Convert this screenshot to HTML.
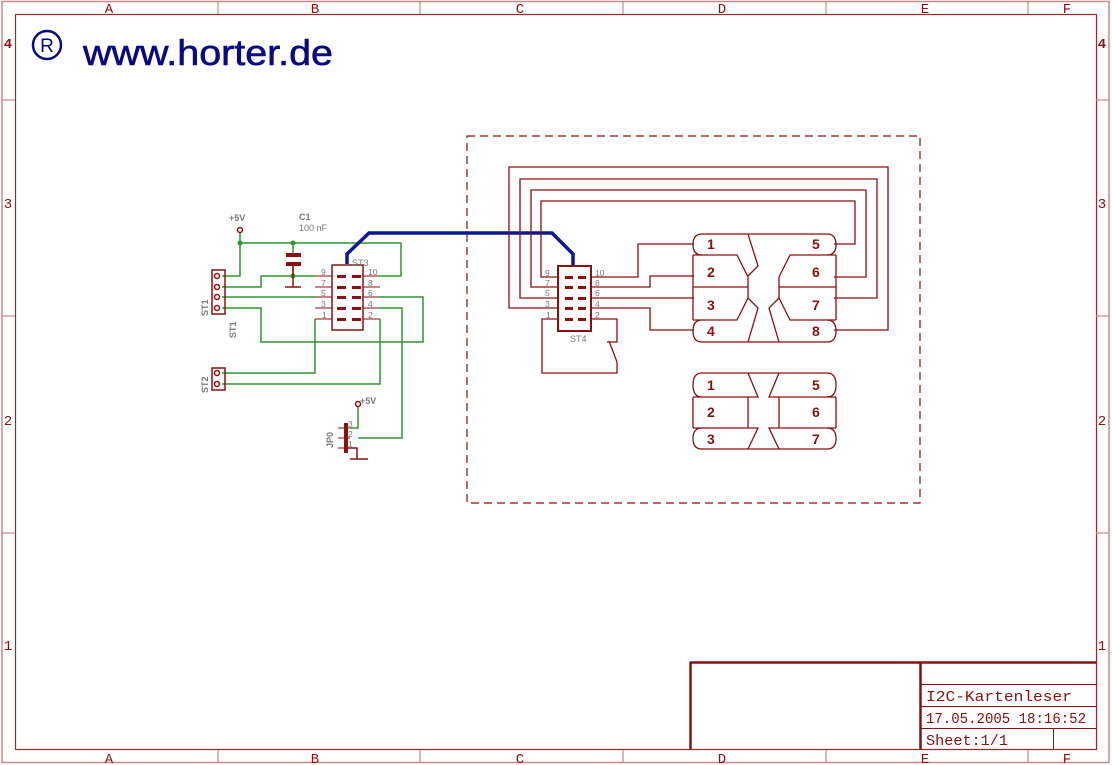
<!DOCTYPE html>
<html><head><meta charset="utf-8"><style>
html,body{margin:0;padding:0;background:#fdfefd;}
svg{display:block;}
text{font-family:"Liberation Sans",sans-serif;}
text.m{font-family:"Liberation Mono",monospace;}
</style></head><body>
<svg width="1112" height="765" viewBox="0 0 1112 765" xmlns="http://www.w3.org/2000/svg">
<rect x="0" y="0" width="1112" height="765" fill="#fdfefd"/>
<!-- frame -->
<rect x="2" y="1.5" width="1107" height="761" fill="none" stroke="#c98a8a" stroke-width="1.5"/>
<rect x="15.5" y="14.5" width="1081" height="735" fill="none" stroke="#9a2a2a" stroke-width="1.2"/>
<g stroke="#c98a8a" stroke-width="1.2">
<line x1="218" y1="2" x2="218" y2="14"/><line x1="420" y1="2" x2="420" y2="14"/><line x1="623" y1="2" x2="623" y2="14"/><line x1="826" y1="2" x2="826" y2="14"/><line x1="1028" y1="2" x2="1028" y2="14"/>
<line x1="218" y1="750" x2="218" y2="762"/><line x1="420" y1="750" x2="420" y2="762"/><line x1="623" y1="750" x2="623" y2="762"/><line x1="826" y1="750" x2="826" y2="762"/><line x1="1028" y1="750" x2="1028" y2="762"/>
<line x1="2" y1="100" x2="15" y2="100"/><line x1="2" y1="316" x2="15" y2="316"/><line x1="2" y1="533" x2="15" y2="533"/>
<line x1="1096" y1="100" x2="1109" y2="100"/><line x1="1096" y1="316" x2="1109" y2="316"/><line x1="1096" y1="533" x2="1109" y2="533"/>
</g>
<g fill="#8b1010" font-size="14" text-anchor="middle">
<text class="m" x="109" y="13">A</text><text class="m" x="315" y="13">B</text><text class="m" x="520" y="13">C</text><text class="m" x="722" y="13">D</text><text class="m" x="925" y="13">E</text><text class="m" x="1067" y="13">F</text>
<text class="m" x="109" y="763">A</text><text class="m" x="315" y="763">B</text><text class="m" x="520" y="763">C</text><text class="m" x="722" y="763">D</text><text class="m" x="925" y="763">E</text><text class="m" x="1067" y="763">F</text>
<text class="m" x="8" y="48" font-weight="bold">4</text><text class="m" x="8" y="208">3</text><text class="m" x="8" y="425">2</text><text class="m" x="8" y="650">1</text>
<text class="m" x="1102" y="48" font-weight="bold">4</text><text class="m" x="1102" y="208">3</text><text class="m" x="1102" y="425">2</text><text class="m" x="1102" y="650">1</text>
</g>
<!-- logo -->
<circle cx="47" cy="45" r="14" fill="none" stroke="#0a0a80" stroke-width="2.5"/>
<text x="47" y="52" fill="#0a0a80" font-size="19" text-anchor="middle">R</text>
<text x="83" y="65" fill="#0a0a80" font-size="36" textLength="250" lengthAdjust="spacingAndGlyphs" stroke="#0a0a80" stroke-width="0.6">www.horter.de</text>
<!-- title block -->
<g stroke="#8b1010" fill="none">
<line x1="690" y1="662.5" x2="1096" y2="662.5" stroke-width="2.5"/>
<line x1="690.5" y1="662" x2="690.5" y2="750" stroke-width="2.5"/>
<line x1="920.5" y1="662" x2="920.5" y2="750" stroke-width="2.5"/>
<line x1="920" y1="684.5" x2="1096" y2="684.5" stroke-width="1"/>
<line x1="920" y1="706.5" x2="1096" y2="706.5" stroke-width="1"/>
<line x1="920" y1="728.5" x2="1096" y2="728.5" stroke-width="1"/>
<line x1="1053.5" y1="728" x2="1053.5" y2="750" stroke-width="1"/>
</g>
<g fill="#8b1010" font-size="15">
<text class="m" x="926" y="701" textLength="146" lengthAdjust="spacingAndGlyphs">I2C-Kartenleser</text>
<text class="m" x="926" y="723" textLength="160" lengthAdjust="spacingAndGlyphs">17.05.2005 18:16:52</text>
<text class="m" x="926" y="745" textLength="82" lengthAdjust="spacingAndGlyphs">Sheet:1/1</text>
</g>
<!-- dashed box -->
<rect x="467" y="136" width="453" height="367" fill="none" stroke="#8b1010" stroke-width="1.2" stroke-dasharray="8,5"/>
<!-- green wires -->
<g stroke="#2e962e" stroke-width="1.5" fill="none">
<polyline points="240,233 240,276 222,276"/>
<polyline points="240,243 401,243 401,276 380,276"/>
<line x1="293" y1="243" x2="293" y2="255"/>
<polyline points="222,287 261,287 261,276 315,276"/>
<line x1="293" y1="276" x2="293" y2="263"/>
<line x1="222" y1="297" x2="315" y2="297"/>
<polyline points="380,297 423,297 423,342 261,342 261,308 222,308"/>
<polyline points="380,308 402,308 402,438 358,438"/>
<polyline points="315,319 315,373 222,373"/>
<polyline points="380,319 380,384 222,384"/>
<polyline points="358,407 358,428 350,428"/>
</g>
<g fill="#2e962e"><circle cx="240" cy="243" r="2.5"/><circle cx="293" cy="243" r="2.5"/><circle cx="293" cy="276" r="2.5"/></g>
<!-- dark red parts left -->
<g stroke="#8b1010" fill="none" stroke-width="1.5">
<circle cx="240" cy="230" r="2.5"/>
<circle cx="358" cy="404" r="2.5"/>
<rect x="212" y="270" width="13" height="44"/>
<rect x="212" y="368" width="13" height="22"/>
<rect x="332" y="265" width="31" height="65"/>
<line x1="293" y1="263" x2="293" y2="287"/><line x1="285" y1="287" x2="301" y2="287"/>
<g stroke-width="1"><line x1="315" y1="276" x2="332" y2="276"/><line x1="315" y1="287" x2="332" y2="287"/><line x1="315" y1="297" x2="332" y2="297"/><line x1="315" y1="308" x2="332" y2="308"/><line x1="315" y1="319" x2="332" y2="319"/>
<line x1="363" y1="276" x2="380" y2="276"/><line x1="363" y1="287" x2="380" y2="287"/><line x1="363" y1="297" x2="380" y2="297"/><line x1="363" y1="308" x2="380" y2="308"/><line x1="363" y1="319" x2="380" y2="319"/>
<line x1="338" y1="428" x2="350" y2="428"/><line x1="338" y1="438" x2="350" y2="438"/><line x1="338" y1="448" x2="350" y2="448"/></g>
<polyline points="348,448 357,448 357,459"/><line x1="350" y1="459" x2="368" y2="459"/>
</g>
<g fill="#8b1010">
<rect x="286" y="253" width="15" height="4"/><rect x="286" y="262" width="15" height="4"/>
<rect x="337" y="275" width="9" height="3"/><rect x="337" y="286" width="9" height="3"/><rect x="337" y="296" width="9" height="3"/><rect x="337" y="307" width="9" height="3"/><rect x="337" y="318" width="9" height="3"/>
<rect x="352" y="275" width="9" height="3"/><rect x="352" y="286" width="9" height="3"/><rect x="352" y="296" width="9" height="3"/><rect x="352" y="307" width="9" height="3"/><rect x="352" y="318" width="9" height="3"/>
<rect x="344" y="423" width="4" height="30"/>
<circle cx="217" cy="276" r="2.5" fill="none" stroke="#8b1010" stroke-width="1.5"/><circle cx="217" cy="287" r="2.5" fill="none" stroke="#8b1010" stroke-width="1.5"/><circle cx="217" cy="297" r="2.5" fill="none" stroke="#8b1010" stroke-width="1.5"/><circle cx="217" cy="308" r="2.5" fill="none" stroke="#8b1010" stroke-width="1.5"/>
<circle cx="217" cy="373" r="2.5" fill="none" stroke="#8b1010" stroke-width="1.5"/><circle cx="217" cy="384" r="2.5" fill="none" stroke="#8b1010" stroke-width="1.5"/>
</g>
<!-- grey labels -->
<g fill="#7a7a7a" font-size="9" font-weight="bold">
<text x="229" y="221">+5V</text>
<text x="299" y="220">C1</text><text x="299" y="231" font-weight="normal">100 nF</text>
<text x="352" y="266" font-weight="normal">ST3</text>
<text x="360" y="404">+5V</text>
<text x="570" y="342" font-weight="normal">ST4</text>
<text transform="translate(208,316) rotate(-90)">ST1</text>
<text transform="translate(236,338) rotate(-90)">ST1</text>
<text transform="translate(208,393) rotate(-90)">ST2</text>
<text transform="translate(333,448) rotate(-90)">JP0</text>
</g>
<g fill="#7a7a7a" font-size="8.5">
<text x="321" y="275">9</text><text x="321" y="286">7</text><text x="321" y="296">5</text><text x="321" y="307">3</text><text x="322" y="318">1</text>
<text x="368" y="275">10</text><text x="368" y="286">8</text><text x="368" y="296">6</text><text x="368" y="307">4</text><text x="368" y="318">2</text>
<text x="348" y="427">3</text><text x="348" y="437">2</text><text x="348" y="447">1</text>
<text x="545" y="276">9</text><text x="545" y="286">7</text><text x="545" y="296">5</text><text x="545" y="307">3</text><text x="546" y="318">1</text>
<text x="595" y="276">10</text><text x="595" y="286">8</text><text x="595" y="296">6</text><text x="595" y="307">4</text><text x="595" y="318">2</text>
</g>
<!-- blue trace -->
<polyline points="347,264 347,254 369,233 552,233 573,254 573,266" fill="none" stroke="#0a1a90" stroke-width="3.5"/>
<!-- ST4 and right wiring -->
<g stroke="#8b1010" fill="none" stroke-width="1.3">
<rect x="558" y="266" width="33" height="65" stroke-width="2"/>
<polyline points="558,277 541,277 541,201 855,201 855,244 834,244"/>
<polyline points="558,287 531,287 531,190 866,190 866,277 834,277"/>
<polyline points="558,298 520,298 520,179 877,179 877,298 834,298"/>
<polyline points="558,308 509,308 509,167 888,167 888,330 834,330"/>
<polyline points="591,277 638,277 638,244 694,244"/>
<polyline points="591,287 650,287 650,276 694,276"/>
<line x1="591" y1="298" x2="694" y2="298"/>
<polyline points="591,308 650,308 650,330 694,330"/>
<polyline points="558,319 542,319 542,373 617,373 617,362 609,341"/>
<polyline points="607,342 617,342 617,319 591,319"/>
<path d="M702,234 H827 Q836,234 836,244.5 Q836,255 827,255 M702,234 Q693,234 693,244.5 Q693,255 702,255"/>
<path d="M702,342 H827 Q836,342 836,331 Q836,320 827,320 M702,342 Q693,342 693,331 Q693,320 702,320"/>
<line x1="693" y1="255" x2="693" y2="320"/><line x1="836" y1="255" x2="836" y2="320"/>
<polyline points="693,255 737,255 748,277 748,298 737,320 693,320"/>
<line x1="693" y1="287" x2="748" y2="287"/>
<polyline points="748,234 758,266 748,276"/>
<polyline points="748,342 758,308 748,298"/>
<polyline points="836,255 790,255 779,277 779,298 790,320 836,320"/>
<line x1="779" y1="287" x2="836" y2="287"/>
<polyline points="779,342 769,308 779,298"/>
<path d="M702,373 H827 Q836,373 836,385 Q836,397 827,397 M702,373 Q693,373 693,385 Q693,397 702,397"/>
<path d="M702,449 H827 Q836,449 836,438.5 Q836,428 827,428 M702,449 Q693,449 693,438.5 Q693,428 702,428"/>
<line x1="693" y1="397" x2="693" y2="428"/><line x1="836" y1="397" x2="836" y2="428"/>
<polyline points="748,373 758,397 693,397"/>
<line x1="748" y1="397" x2="748" y2="428"/>
<polyline points="693,428 758,428 748,449"/>
<polyline points="779,373 769,397 836,397"/>
<line x1="779" y1="397" x2="779" y2="428"/>
<polyline points="836,428 769,428 779,449"/>
</g>
<g fill="#8b1010">
<rect x="565" y="276" width="8" height="3"/><rect x="565" y="286" width="8" height="3"/><rect x="565" y="297" width="8" height="3"/><rect x="565" y="307" width="8" height="3"/><rect x="565" y="318" width="8" height="3"/>
<rect x="578" y="276" width="8" height="3"/><rect x="578" y="286" width="8" height="3"/><rect x="578" y="297" width="8" height="3"/><rect x="578" y="307" width="8" height="3"/><rect x="578" y="318" width="8" height="3"/>
</g>
<g fill="#8b1010" font-size="14" font-weight="bold">
<text x="707" y="249">1</text><text x="707" y="277">2</text><text x="707" y="310">3</text><text x="707" y="336">4</text>
<text x="812" y="249">5</text><text x="812" y="277">6</text><text x="812" y="310">7</text><text x="812" y="336">8</text>
<text x="707" y="390">1</text><text x="707" y="417">2</text><text x="707" y="444">3</text>
<text x="812" y="390">5</text><text x="812" y="417">6</text><text x="812" y="444">7</text>
</g>
</svg>
</body></html>
